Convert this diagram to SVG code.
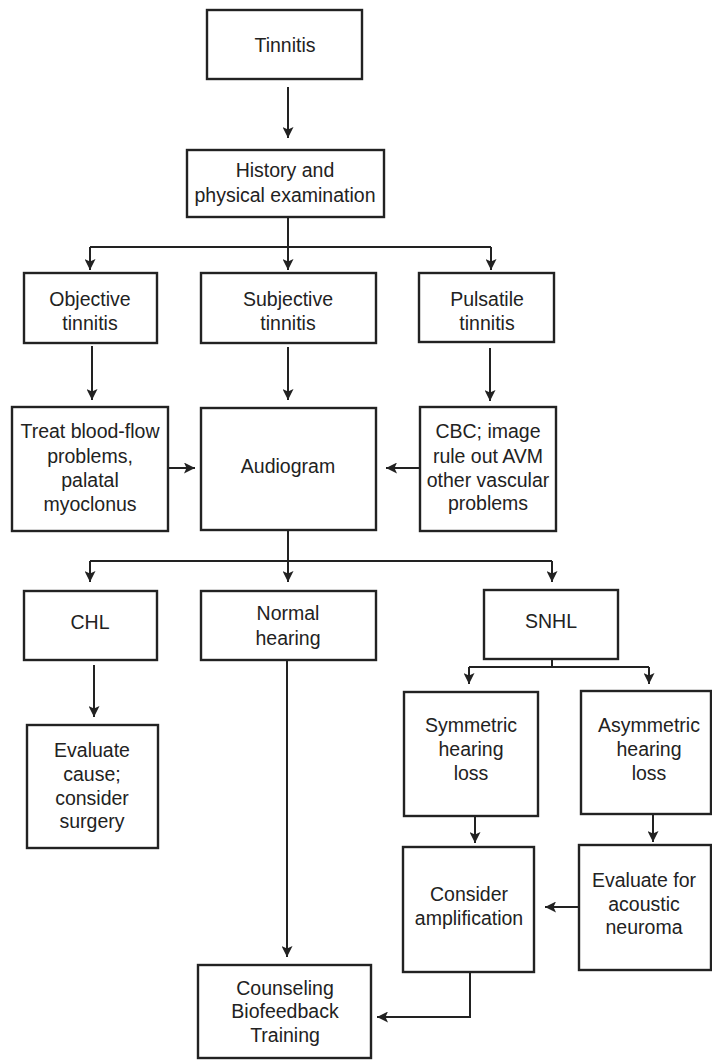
<svg xmlns="http://www.w3.org/2000/svg" width="712" height="1060" viewBox="0 0 712 1060">
<defs>
<style>
.box{fill:#fff;stroke:#222;stroke-width:2.4}
.t{font-family:"Liberation Sans",Arial,sans-serif;font-size:19.5px;fill:#222;text-anchor:middle}
.c{fill:none;stroke:#222;stroke-width:2}
</style>
<marker id="ah" viewBox="0 0 11 11" refX="11" refY="5.5" markerWidth="11" markerHeight="11" markerUnits="userSpaceOnUse" orient="auto">
<path d="M0,0 L11,5.5 L0,11 L2.5,5.5 z" fill="#222"/>
</marker>
</defs>
<rect width="712" height="1060" fill="#fff"/>
<g id="connectors">
<path class="c" d="M288,87 V138" marker-end="url(#ah)"/>
<path class="c" d="M288,217 V247"/>
<path class="c" d="M90,247 H491"/>
<path class="c" d="M90,247 V270" marker-end="url(#ah)"/>
<path class="c" d="M288,247 V270" marker-end="url(#ah)"/>
<path class="c" d="M491,247 V270" marker-end="url(#ah)"/>
<path class="c" d="M92,346 V400" marker-end="url(#ah)"/>
<path class="c" d="M288,347 V400" marker-end="url(#ah)"/>
<path class="c" d="M490,348 V401" marker-end="url(#ah)"/>
<path class="c" d="M168,468 H195" marker-end="url(#ah)"/>
<path class="c" d="M420,468 H386" marker-end="url(#ah)"/>
<path class="c" d="M288,530 V561"/>
<path class="c" d="M90,561 H552"/>
<path class="c" d="M90,561 V582" marker-end="url(#ah)"/>
<path class="c" d="M288,561 V582" marker-end="url(#ah)"/>
<path class="c" d="M552,561 V582" marker-end="url(#ah)"/>
<path class="c" d="M94,665 V717" marker-end="url(#ah)"/>
<path class="c" d="M552,659 V667 M469,667 H649"/>
<path class="c" d="M469,667 V684" marker-end="url(#ah)"/>
<path class="c" d="M649,667 V684" marker-end="url(#ah)"/>
<path class="c" d="M475,816 V843" marker-end="url(#ah)"/>
<path class="c" d="M653,814 V842" marker-end="url(#ah)"/>
<path class="c" d="M579,907 H545" marker-end="url(#ah)"/>
<path class="c" d="M287,660 V957" marker-end="url(#ah)"/>
<path class="c" d="M470,972 V1017 H377" marker-end="url(#ah)"/>
</g>
<g id="n-tinnitis"><rect class="box" x="207" y="10" width="155" height="69"/><text class="t" x="285" y="52">Tinnitis</text></g>
<g id="n-history"><rect class="box" x="187" y="150" width="197" height="67"/><text class="t" x="285" y="177">History and</text><text class="t" x="285" y="202">physical examination</text></g>
<g id="n-objective"><rect class="box" x="24" y="273" width="133" height="70"/><text class="t" x="90" y="306">Objective</text><text class="t" x="90" y="330">tinnitis</text></g>
<g id="n-subjective"><rect class="box" x="201" y="273" width="175" height="70"/><text class="t" x="288" y="306">Subjective</text><text class="t" x="288" y="330">tinnitis</text></g>
<g id="n-pulsatile"><rect class="box" x="419" y="273" width="135" height="69"/><text class="t" x="487" y="306">Pulsatile</text><text class="t" x="487" y="330">tinnitis</text></g>
<g id="n-treat"><rect class="box" x="12" y="407" width="156" height="124"/><text class="t" x="90" y="438">Treat blood-flow</text><text class="t" x="90" y="463">problems,</text><text class="t" x="90" y="487">palatal</text><text class="t" x="90" y="511">myoclonus</text></g>
<g id="n-audiogram"><rect class="box" x="201" y="408" width="175" height="122"/><text class="t" x="288" y="473">Audiogram</text></g>
<g id="n-cbc"><rect class="box" x="420" y="407" width="136" height="124"/><text class="t" x="488" y="438">CBC; image</text><text class="t" x="488" y="463">rule out AVM</text><text class="t" x="488" y="487">other vascular</text><text class="t" x="488" y="510">problems</text></g>
<g id="n-chl"><rect class="box" x="24" y="591" width="133" height="69"/><text class="t" x="90" y="629">CHL</text></g>
<g id="n-normal"><rect class="box" x="201" y="591" width="175" height="69"/><text class="t" x="288" y="620">Normal</text><text class="t" x="288" y="645">hearing</text></g>
<g id="n-snhl"><rect class="box" x="484" y="590" width="134" height="69"/><text class="t" x="551" y="628">SNHL</text></g>
<g id="n-evalcause"><rect class="box" x="27" y="725" width="131" height="123"/><text class="t" x="92" y="757">Evaluate</text><text class="t" x="92" y="781">cause;</text><text class="t" x="92" y="805">consider</text><text class="t" x="92" y="828">surgery</text></g>
<g id="n-symmetric"><rect class="box" x="404" y="692" width="134" height="124"/><text class="t" x="471" y="732">Symmetric</text><text class="t" x="471" y="756">hearing</text><text class="t" x="471" y="780">loss</text></g>
<g id="n-asymmetric"><rect class="box" x="581" y="691" width="130" height="123"/><text class="t" x="649" y="732">Asymmetric</text><text class="t" x="649" y="756">hearing</text><text class="t" x="649" y="780">loss</text></g>
<g id="n-consider"><rect class="box" x="403" y="847" width="131" height="125"/><text class="t" x="469" y="901">Consider</text><text class="t" x="469" y="925">amplification</text></g>
<g id="n-evalfor"><rect class="box" x="579" y="845" width="132" height="125"/><text class="t" x="644" y="887">Evaluate for</text><text class="t" x="644" y="911">acoustic</text><text class="t" x="644" y="934">neuroma</text></g>
<g id="n-counseling"><rect class="box" x="198" y="965" width="173" height="93"/><text class="t" x="285" y="995">Counseling</text><text class="t" x="285" y="1018">Biofeedback</text><text class="t" x="285" y="1042">Training</text></g>
</svg>
